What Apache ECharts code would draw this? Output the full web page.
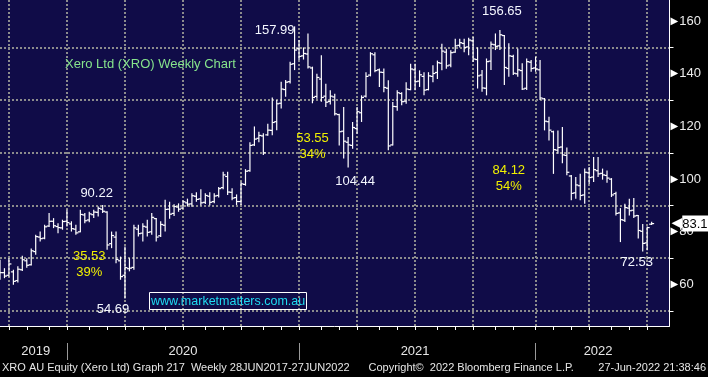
<!DOCTYPE html>
<html>
<head>
<meta charset="utf-8">
<script src="https://cdn.jsdelivr.net/npm/echarts@6/dist/echarts.min.js"></script>
<style>
  html, body { margin: 0; padding: 0; background: #000; }
  #chart { width: 708px; height: 377px; }
</style>
</head>
<body>
<div id="chart"></div>
<script>
// weekly bars dated on Fridays, first one 13 Sep 2019, last one is the week of 27 Jun 2022
const firstWeek = '2019-09-13';
const spareWeeks = 4; // empty space after the last bar

const opens = [
  66, 64.5, 63.5, 64.8, 61.5, 65.6, 69, 67.5, 72.5, 78,
  77.6, 82.2, 84, 82, 81.5, 84, 83, 81, 80, 86.4,
  84.5, 86.5, 87.4, 88.6, 87.5, 75.5, 78, 69, 63.5, 66,
  66.5, 81, 79.5, 81.8, 80, 85, 78.5, 82.5, 88.6, 87,
  89.4, 89, 91, 90.6, 93.5, 92.5, 91.2, 93.5, 91.5, 93.8,
  96.8, 101, 95, 93, 91.5, 98, 103.2, 113, 115.5, 116.4,
  116.8, 118.5, 121.8, 128.8, 134, 137, 143.8, 149.5, 146.8, 147.5,
  142.2, 131.4, 138, 131.5, 129.5, 131.2, 124.5, 118.2, 114, 112.8,
  119.2, 125.2, 131.5, 139.5, 147.2, 141.5, 140.5, 134.5, 113, 127.5,
  132.5, 129.6, 134, 141.5, 137.2, 139, 134, 139, 140.5, 144,
  148.2, 143.3, 148.2, 150.8, 151.5, 150.2, 152.5, 145.4, 139.5, 134.5,
  144.8, 151, 150.6, 154.5, 142, 146.6, 140, 141.2, 134.5, 144.4,
  142.2, 141.5, 130.5, 121.8, 118, 111, 112.2, 109, 101.2, 94.8,
  97.5, 94, 102.4, 100.8, 103.2, 102.2, 101.4, 100, 94.5, 87.2,
  84.4, 89, 88.2, 86.2, 80.2, 75.8, 82.9
];
const highs = [
  69.4, 66.2, 70, 65.6, 66.9, 70.9, 70, 73.7, 78.9, 80.1,
  82.7, 87.1, 85.2, 83.3, 84.6, 88.4, 84, 82.7, 88.4, 87.1,
  87.6, 88.4, 89.6, 90.22, 87.8, 80.1, 80.1, 70.6, 74.4, 70,
  82.7, 82.7, 83.3, 84.6, 87.1, 85.2, 84, 92.2, 91.4, 90.5,
  90.8, 92, 92.6, 94.6, 95, 96.2, 94.6, 95, 94.6, 97,
  102.8, 102.8, 96.5, 94.2, 99, 103.8, 114, 120, 118, 117.4,
  121, 131, 130, 137, 137.6, 144.6, 157.99, 152.8, 150, 155.3,
  142.7, 140, 147, 136.2, 133.7, 132.4, 124.8, 127.4, 116, 121.7,
  127.4, 131.8, 140.6, 148.2, 148.2, 142, 142, 137.5, 129.3, 133.7,
  133, 136.8, 143.8, 143.8, 141.3, 140.6, 140.6, 143.2, 145, 151.4,
  149.5, 148.9, 153.3, 153.3, 153.3, 153.7, 154, 150, 141.4, 145.8,
  152.2, 155.3, 156.65, 154.7, 151.6, 147.2, 149.6, 144, 145.8, 145.2,
  146.5, 145.2, 130.8, 123.7, 118.4, 118.5, 119.8, 112, 101.6, 100.8,
  102, 104, 104.6, 108.4, 108.4, 104, 103.3, 100.4, 95.2, 89,
  90.7, 92.6, 92.8, 86.4, 83, 82, 83.8
];
const lows = [
  61.8, 62.4, 63, 59.9, 60.8, 65.1, 66.4, 67.2, 71.3, 76.3,
  77.2, 81.8, 81.4, 79.5, 80.8, 82, 80.1, 78.9, 79.8, 83.3,
  83.6, 85.2, 85.8, 87.1, 73.2, 73.8, 68.1, 61.8, 54.69, 65,
  65.6, 78.2, 76.3, 78.2, 78.9, 76.3, 78, 80.1, 85, 86,
  87.6, 88.8, 89.6, 89.5, 91.4, 90, 90.6, 90, 90.8, 93,
  96.2, 94, 92, 90.2, 90.2, 97.5, 102.8, 112.6, 114, 109.2,
  116.5, 116.7, 118.6, 126.8, 131.3, 136.3, 141.4, 145.2, 145.4, 142,
  128.8, 130.5, 129.4, 127.4, 128.3, 124.2, 112.8, 107.8, 104.44, 111.5,
  117.2, 121.7, 131, 139, 140.6, 135, 133, 111, 112.8, 126,
  128, 128.6, 133.7, 133.7, 135, 131.8, 133.7, 136.8, 138, 141.3,
  141.9, 142.5, 148, 150, 148.2, 147, 144.5, 134.4, 133.2, 131.8,
  141.4, 149, 149, 135.7, 138.9, 139.5, 138.9, 133.8, 133.8, 140.8,
  140.8, 130, 118.5, 114.7, 102, 109.6, 106, 101.5, 92, 92.6,
  92, 90.7, 98.2, 98.9, 100.8, 99.8, 98.6, 93.2, 86.2, 76.1,
  83.7, 86.2, 85.2, 77.5, 72.53, 73, 82.6
];
const closes = [
  64.5, 63.2, 67.8, 61.2, 65.8, 69.4, 67.3, 72.8, 78.2, 77.4,
  81.9, 84, 82.3, 81.6, 83.9, 83.5, 81.2, 79.6, 86.6, 84.2,
  86.8, 87.5, 88.9, 87.8, 75, 78.6, 69.5, 63, 66.4, 66.2,
  81.5, 79.3, 82.1, 79.8, 85.5, 78, 82.8, 88.5, 86.7, 89.6,
  88.6, 91.4, 90.5, 93.7, 92.3, 91, 93.8, 91.2, 93.6, 96.4,
  101.6, 95.1, 92.8, 91.5, 98.2, 103, 112.8, 115.2, 116.6, 110,
  118.6, 121.5, 128.6, 134.2, 136.8, 143.6, 149, 146.6, 147.7, 142.6,
  131, 138.6, 131, 129.2, 131.5, 124.8, 118, 114.4, 113, 119.6,
  125.6, 131, 139, 147.6, 141.2, 140.6, 134.8, 112.6, 127.6, 132.8,
  129.4, 134.2, 141.8, 137, 139.6, 133.8, 139.2, 140.1, 144.2, 148.6,
  143, 148, 150.6, 151.8, 150, 152.8, 145.6, 139.2, 134.6, 144.6,
  151.2, 150.4, 154.8, 142.4, 146.8, 140.2, 141.5, 134.2, 144.6, 142,
  141.8, 130.8, 122, 118.6, 111.2, 112, 109.2, 102.6, 94.6, 97.8,
  93.8, 102.6, 100.6, 103.6, 102, 101.6, 100.4, 94, 87, 84.6,
  89.2, 88, 86, 80.5, 75.6, 81.6, 83.13
];

const lastPrice = 83.13;
const majorTicks = [60, 80, 100, 120, 140, 160];
const minorTicks = [50, 70, 90, 110, 130, 150];
const yearLabelBars = [8, 41, 93, 134];

// turning points (highs then lows) and the moves between them
const peakTexts = ['157.99', '156.65', '90.22', '54.69', '104.44', '72.53'];
const peakBars = [66, 112, 23, 28, 78, 144];
const peakIsHigh = [true, true, true, false, false, false];
const peakOffsets = [[-20, 4], [2, -18], [-6, -11], [-12, 11], [7, 14], [-6, 11]];
const dropTexts = ['53.55\n34%', '35.53\n39%', '84.12\n54%'];
const dropBars = [70, 20, 114];
const dropLevels = [112.6, 67.8, 100.2];

const FONT = '"Liberation Sans", Arial, sans-serif';

const weeks = [];
const t0 = Date.parse(firstWeek + 'T00:00:00Z');
for (let i = 0; i < opens.length + spareWeeks; i++) {
  weeks.push(new Date(t0 + i * 7 * 86400000).toISOString().slice(0, 10));
}
const ym = i => weeks[i].slice(0, 7);
const monthEnd = i => i + 1 < weeks.length && ym(i + 1) !== ym(i);
const quarterEnd = i => monthEnd(i) && (+weeks[i].slice(5, 7)) % 3 === 0;
const yearEnd = i => i + 1 < weeks.length && weeks[i + 1].slice(0, 4) !== weeks[i].slice(0, 4);

const bars = opens.map((o, i) => [i, o, highs[i], lows[i], closes[i]]);

function renderBar(params, api) {
  const i = api.value(0);
  const hi = api.coord([i, api.value(2)]);
  const lo = api.coord([i, api.value(3)]);
  const op = api.coord([i, api.value(1)]);
  const cl = api.coord([i, api.value(4)]);
  const x = hi[0];
  const style = { stroke: '#fff', lineWidth: 1.2 };
  return {
    type: 'group',
    children: [
      { type: 'line', shape: { x1: x, y1: hi[1], x2: x, y2: lo[1] }, style },
      { type: 'line', shape: { x1: x - 2.5, y1: op[1], x2: x, y2: op[1] }, style },
      { type: 'line', shape: { x1: x, y1: cl[1], x2: x + 2.5, y2: cl[1] }, style }
    ]
  };
}

const notes = peakTexts.map((t, k) => ({
  name: t,
  coord: [weeks[peakBars[k]], peakIsHigh[k] ? highs[peakBars[k]] : lows[peakBars[k]]],
  label: { offset: peakOffsets[k], color: '#f4f7ff' }
})).concat(dropTexts.map((t, k) => ({
  name: t,
  coord: [weeks[dropBars[k]], dropLevels[k]],
  label: { color: '#f0f000', lineHeight: 16 }
})));

const chart = echarts.init(document.getElementById('chart'));
chart.setOption({
  backgroundColor: '#000',
  animation: false,
  title: [
    {
      text: 'Xero Ltd (XRO) Weekly Chart',
      left: 65, top: 58, padding: 0,
      textStyle: { color: '#86e48c', fontSize: 13, fontWeight: 'normal', fontFamily: FONT }
    },
    {
      text: 'www.marketmatters.com.au',
      left: 149, top: 292, padding: [3, 2, 2, 2],
      borderColor: '#fff', borderWidth: 1,
      textStyle: { color: '#1fdcf2', fontSize: 12.5, fontWeight: 'normal', fontFamily: FONT }
    }
  ],
  grid: {
    left: -1, right: 38.5, top: 0, bottom: 51,
    show: true, backgroundColor: '#100c48', borderWidth: 0
  },
  xAxis: [
    {
      type: 'category',
      data: weeks,
      boundaryGap: false,
      axisLine: { lineStyle: { color: '#fff', width: 1 } },
      axisTick: { interval: monthEnd, length: 4, lineStyle: { color: '#fff' } },
      axisLabel: {
        interval: i => yearLabelBars.indexOf(i) >= 0,
        formatter: v => v.slice(0, 4),
        margin: 19, color: '#e6e6e6', fontSize: 13, fontFamily: FONT
      },
      splitLine: {
        show: true, interval: quarterEnd,
        lineStyle: { color: '#8c8c8c', width: 2, type: [2, 2] }
      }
    },
    {
      type: 'category',
      data: weeks,
      boundaryGap: false,
      position: 'bottom',
      offset: 17,
      axisLine: { show: false },
      axisTick: { interval: yearEnd, length: 17, lineStyle: { color: '#9a9a9a' } },
      axisLabel: { show: false },
      splitLine: { show: false }
    }
  ],
  yAxis: {
    type: 'value',
    position: 'right',
    min: 44.25, max: 168,
    axisLine: { show: true, lineStyle: { color: '#fff' } },
    axisTick: { show: true, customValues: minorTicks, length: 4, lineStyle: { color: '#fff' } },
    axisLabel: {
      customValues: majorTicks,
      margin: 1,
      formatter: v => '{t|\u25B6}{v|' + v + '}',
      rich: {
        t: { color: '#fff', fontSize: 10, fontFamily: 'DejaVu Sans' },
        v: { color: '#ececec', fontSize: 13, fontFamily: FONT, padding: [0, 0, 0, 1] }
      }
    },
    splitLine: {
      show: true,
      lineStyle: { color: '#8c8c8c', width: 2, type: [2, 2] }
    }
  },
  graphic: [
    {
      type: 'text', left: 2, top: 362,
      style: { text: 'XRO AU Equity (Xero Ltd) Graph 217  Weekly 28JUN2017-27JUN2022', fill: '#e6e6e6', font: '11px "Liberation Sans"' }
    },
    {
      type: 'text', right: 2, top: 362,
      style: { text: 'Copyright\u00A9  2022 Bloomberg Finance L.P.        27-Jun-2022 21:38:46', fill: '#e6e6e6', font: '11px "Liberation Sans"' }
    }
  ],
  series: [
    {
      type: 'custom',
      renderItem: renderBar,
      data: bars,
      encode: { x: 0, y: [1, 2, 3, 4] },
      clip: true,
      silent: true,
      z: 3,
      markPoint: {
        symbol: 'circle', symbolSize: 0, silent: true,
        label: {
          show: true, position: 'inside',
          formatter: p => p.name,
          fontSize: 13, fontFamily: FONT
        },
        data: notes
      },
      markLine: {
        silent: true, symbol: 'none',
        lineStyle: { color: 'rgba(0,0,0,0)', width: 1, type: 'solid' },
        label: {
          show: true, position: 'end', distance: 2,
          formatter: () => '{p|\u25C0}{n|' + lastPrice + '}',
          rich: {
            p: { color: '#fff', fontSize: 14, fontFamily: 'DejaVu Sans' },
            n: { color: '#000', backgroundColor: '#fff', fontSize: 13, fontFamily: FONT, padding: [2, 6, 1, 0] }
          }
        },
        data: [{ yAxis: lastPrice }]
      }
    }
  ]
});
</script>
</body>
</html>
